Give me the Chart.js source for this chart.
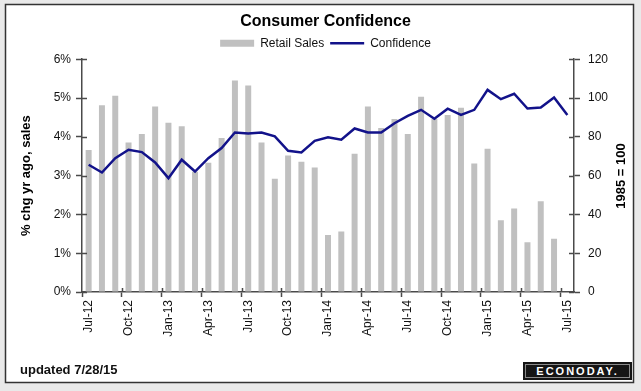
<!DOCTYPE html>
<html>
<head>
<meta charset="utf-8">
<script src="https://cdn.jsdelivr.net/npm/chart.js@4"></script>
<style>
  html, body { margin: 0; padding: 0; background: #e9e9e9; }
  #wrap { position: relative; width: 641px; height: 391px; }
  #chart { position: absolute; left: 0; top: 0; }
  #updated {
    position: absolute; left: 20px; top: 362px;
    font: bold 13px "Liberation Sans", Arial, sans-serif; color: #111;
  }
  #logo {
    position: absolute; left: 523px; top: 362px; width: 105px; height: 14px;
    background: #151515; border: 2px solid #151515;
    box-shadow: inset 0 0 0 1px #8a8a8a;
    color: #fff; font: bold 11px "Liberation Sans", Arial, sans-serif;
    letter-spacing: 2px; text-align: center; line-height: 14px;
  }
</style>
</head>
<body>
<div id="wrap">
  <canvas id="chart" width="641" height="391"></canvas>
  <div id="updated">updated 7/28/15</div>
  <div id="logo">ECONODAY.</div>
</div>
<script>
const months = [
  "Jul-12", "Aug-12", "Sep-12", "Oct-12", "Nov-12", "Dec-12",
  "Jan-13", "Feb-13", "Mar-13", "Apr-13", "May-13", "Jun-13",
  "Jul-13", "Aug-13", "Sep-13", "Oct-13", "Nov-13", "Dec-13",
  "Jan-14", "Feb-14", "Mar-14", "Apr-14", "May-14", "Jun-14",
  "Jul-14", "Aug-14", "Sep-14", "Oct-14", "Nov-14", "Dec-14",
  "Jan-15", "Feb-15", "Mar-15", "Apr-15", "May-15", "Jun-15",
  "Jul-15"
];

// retail sales, % change year ago (left axis)
const retail_sales = [
  3.66, 4.81, 5.06, 3.85, 4.07, 4.78,
  4.36, 4.27, 3.10, 3.33, 3.97, 5.45,
  5.32, 3.85, 2.92, 3.52, 3.36, 3.21,
  1.47, 1.56, 3.56, 4.78, 4.23, 4.46,
  4.07, 5.03, 4.46, 4.56, 4.75, 3.31,
  3.69, 1.85, 2.15, 1.28, 2.34, 1.37,
  null
];

// consumer confidence index, 1985 = 100 (right axis)
const confidence = [
  65.6, 61.6, 69.0, 73.3, 72.1, 66.8,
  58.7, 68.2, 62.1, 69.0, 74.2, 82.2,
  81.7, 82.2, 80.2, 72.8, 71.9, 77.9,
  79.8, 78.5, 84.3, 82.2, 82.2, 87.0,
  90.8, 93.9, 89.3, 94.5, 91.3, 93.9,
  104.2, 99.4, 102.2, 94.6, 95.1, 100.3,
  91.2
];

const left_ticks = [0, 1, 2, 3, 4, 5, 6];
const right_ticks = [0, 20, 40, 60, 80, 100, 120];

const axis_color = "#4a4a4a";
const font_family = '"Liberation Sans", Arial, sans-serif';
Chart.defaults.font.family = font_family;

// panel background + border, crossing tick marks, right axis title
const decor = {
  id: "decor",
  beforeDraw(chart) {
    const ctx = chart.ctx;
    ctx.save();
    ctx.fillStyle = "#e9e9e9";
    ctx.fillRect(0, 0, chart.width, chart.height);
    ctx.fillStyle = "#ffffff";
    ctx.fillRect(5, 4, 629, 379);
    ctx.strokeStyle = "#333333";
    ctx.lineWidth = 1.5;
    ctx.strokeRect(5.5, 4.5, 628, 378);
    ctx.restore();
  },
  afterDraw(chart) {
    const ctx = chart.ctx;
    const { x, y, y1 } = chart.scales;
    ctx.save();
    ctx.strokeStyle = axis_color;
    ctx.lineWidth = 1.5;
    ctx.beginPath();
    y.ticks.forEach((t) => {
      const py = Math.round(y.getPixelForValue(t.value)) + 0.5;
      ctx.moveTo(y.right, py);
      ctx.lineTo(y.right + 5, py);
    });
    y1.ticks.forEach((t) => {
      const py = Math.round(y1.getPixelForValue(t.value)) + 0.5;
      ctx.moveTo(y1.left, py);
      ctx.lineTo(y1.left - 5, py);
    });
    const half = (x.getPixelForValue(1) - x.getPixelForValue(0)) / 2;
    for (let i = 3; i < months.length; i += 3) {
      const px = Math.round(x.getPixelForValue(i) - half) + 0.5;
      ctx.moveTo(px, x.top);
      ctx.lineTo(px, x.top - 4);
    }
    ctx.stroke();

    ctx.translate(621, 176);
    ctx.rotate(-Math.PI / 2);
    ctx.fillStyle = "#000";
    ctx.font = "bold 13px " + font_family;
    ctx.textAlign = "center";
    ctx.textBaseline = "middle";
    ctx.fillText("1985 = 100", 0, 0);
    ctx.restore();
  },
};

new Chart("chart", {
  type: "bar",
  data: {
    labels: months,
    datasets: [
      {
        label: "Retail Sales",
        data: retail_sales,
        backgroundColor: "#c0c0c0",
        barPercentage: 0.45,
        categoryPercentage: 1,
        pointStyle: "rect",
        yAxisID: "y",
        order: 2,
      },
      {
        type: "line",
        label: "Confidence",
        data: confidence,
        borderColor: "#12128a",
        backgroundColor: "#12128a",
        borderWidth: 2.5,
        pointRadius: 0,
        pointStyle: "line",
        tension: 0,
        yAxisID: "y1",
        order: 1,
      },
    ],
  },
  options: {
    responsive: false,
    animation: false,
    layout: { padding: { left: 10, right: 0, top: 10, bottom: 0 } },
    plugins: {
      title: {
        display: true,
        text: "Consumer Confidence",
        color: "#000",
        font: { size: 16, weight: "bold" },
        padding: { top: 2, bottom: 0 },
      },
      legend: {
        labels: {
          usePointStyle: true,
          pointStyleWidth: 34,
          boxHeight: 7,
          color: "#111",
          font: { size: 12 },
          padding: 6,
          sort: (a, b) => a.datasetIndex - b.datasetIndex,
        },
      },
      tooltip: { enabled: false },
    },
    scales: {
      x: {
        grid: {
          offset: true,
          drawOnChartArea: false,
          tickLength: 5,
          tickWidth: 1.5,
          tickColor: (c) => (c.index % 3 === 0 ? axis_color : "transparent"),
        },
        border: { color: axis_color, width: 1.5 },
        ticks: {
          autoSkip: false,
          minRotation: 90,
          maxRotation: 90,
          padding: 3,
          color: "#111",
          font: { size: 12 },
          callback: (v, i) => (i % 3 === 0 ? months[i] : ""),
        },
        afterFit: (s) => { s.height = 99; },
      },
      y: {
        position: "left",
        min: 0,
        max: 6,
        afterBuildTicks: (s) => { s.ticks = left_ticks.map((v) => ({ value: v })); },
        grid: { drawOnChartArea: false, tickLength: 6, tickWidth: 1.5, tickColor: axis_color },
        border: { color: axis_color, width: 1.5 },
        ticks: { padding: 5, color: "#111", font: { size: 12 }, callback: (v) => v + "%" },
        title: {
          display: true,
          text: "% chg yr ago, sales",
          color: "#000",
          font: { size: 13, weight: "bold" },
          padding: { top: 9, bottom: 0 },
        },
        afterFit: (s) => { s.width = 72; },
      },
      y1: {
        position: "right",
        min: 0,
        max: 120,
        afterBuildTicks: (s) => { s.ticks = right_ticks.map((v) => ({ value: v })); },
        grid: { drawOnChartArea: false, tickLength: 6, tickWidth: 1.5, tickColor: axis_color },
        border: { color: axis_color, width: 1.5 },
        ticks: { padding: 8, color: "#111", font: { size: 12 } },
        afterFit: (s) => { s.width = 67; },
      },
    },
  },
  plugins: [decor],
});
</script>
</body>
</html>
